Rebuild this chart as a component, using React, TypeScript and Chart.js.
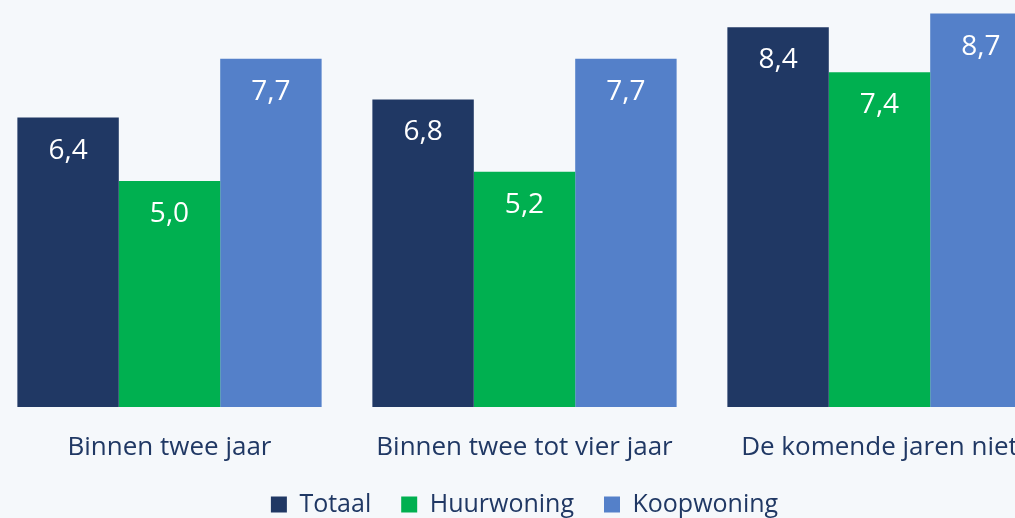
import React, { useEffect, useRef } from "react";
import { Chart, registerables } from "chart.js";

Chart.register(...registerables);

const categories = ["Binnen twee jaar", "Binnen twee tot vier jaar", "De komende jaren niet"];
const seriesNames = ["Totaal", "Huurwoning", "Koopwoning"];
const totaal = [6.4, 6.8, 8.4];
const huurwoning = [5.0, 5.2, 7.4];
const koopwoning = [7.7, 7.7, 8.7];
const colors = ["#203864", "#00B050", "#5480C9"];

const TEXT = "#203864";
const BG = "#F5F8FB";

const valueLabels = {
  id: "valueLabels",
  afterDatasetsDraw(chart: any) {
    const ctx = chart.ctx;
    ctx.save();
    ctx.fillStyle = "#FFFFFF";
    ctx.font = "28px 'Open Sans'";
    ctx.textAlign = "center";
    ctx.textBaseline = "middle";
    chart.data.datasets.forEach((ds: any, di: number) => {
      const meta = chart.getDatasetMeta(di);
      meta.data.forEach((bar: any, i: number) => {
        const v = ds.data[i] as number;
        ctx.fillText(v.toFixed(1).replace(".", ","), bar.x, bar.y + 33);
      });
    });
    ctx.restore();
  },
};

export default function App() {
  const ref = useRef<HTMLCanvasElement | null>(null);
  useEffect(() => {
    if (!ref.current) return;
    const chart = new Chart(ref.current, {
      type: "bar",
      data: {
        labels: categories,
        datasets: [totaal, huurwoning, koopwoning].map((d, i) => ({
          label: seriesNames[i],
          data: d,
          backgroundColor: colors[i],
          borderWidth: 0,
          barPercentage: 1,
          categoryPercentage: 0.857,
        })),
      },
      options: {
        responsive: false,
        animation: false,
        layout: { padding: 0 },
        scales: {
          x: {
            grid: { display: false, drawTicks: false },
            border: { display: false },
            ticks: {
              color: TEXT,
              font: { family: "'Open Sans'", size: 26 },
              padding: 25,
              maxRotation: 0,
              autoSkip: false,
            },
            afterFit: (scale: any) => {
              scale.height = 55;
            },
          },
          y: {
            display: false,
            min: 0,
            max: 9,
          },
        },
        plugins: {
          legend: {
            position: "bottom",
            labels: {
              color: TEXT,
              font: { family: "'Open Sans'", size: 25 },
              boxWidth: 16,
              boxHeight: 16,
              padding: 30,
            },
          },
          tooltip: { enabled: false },
        },
      },
      plugins: [valueLabels],
    });
    return () => chart.destroy();
  }, []);
  return (
    <div
      style={{
        position: "absolute",
        left: 0,
        top: 0,
        width: 1015,
        height: 518,
        overflow: "hidden",
        background: BG,
      }}
    >
      <canvas
        ref={ref}
        width={1065}
        height={527}
        style={{ position: "absolute", left: -8, top: 0, width: 1065, height: 527 }}
      />
    </div>
  );
}
